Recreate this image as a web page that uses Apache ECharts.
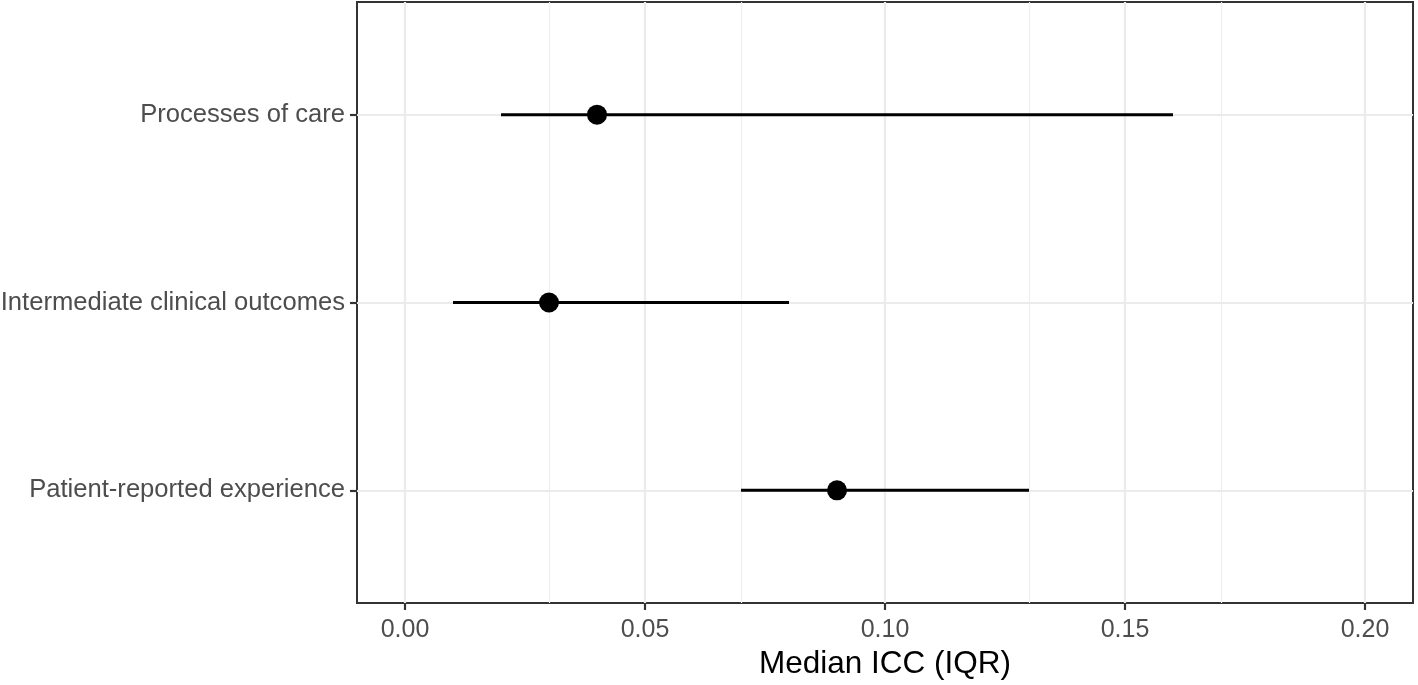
<!DOCTYPE html>
<html>
<head>
<meta charset="utf-8">
<script src="https://cdn.jsdelivr.net/npm/echarts@6/dist/echarts.min.js"></script>
<style>
html, body { margin: 0; padding: 0; background: #fff; }
#chart { width: 1418px; height: 685px; }
</style>
</head>
<body>
<div id="chart"></div>
<script>
// data
const categories = ['Processes of care', 'Intermediate clinical outcomes', 'Patient-reported experience']
const medians = [0.04, 0.03, 0.09]
const lows = [0.02, 0.01, 0.07]
const highs = [0.16, 0.08, 0.13]

const xTicks = [0, 0.05, 0.1, 0.15, 0.2]
const xMinor = [0.025, 0.075, 0.125, 0.175]
const xLimits = [-0.01, 0.21]
const yPos = [1, 2, 3]

const FONT = 'Liberation Sans'

var chart = echarts.init(document.getElementById('chart'), null, { renderer: 'canvas' })

var gridLines = []
xTicks.forEach(v => {
  gridLines.push({ xAxis: v, lineStyle: { color: '#ebebeb', width: 2.2, type: 'solid' } })
})
xMinor.forEach(v => {
  gridLines.push({ xAxis: v, lineStyle: { color: '#efefef', width: 1.2, type: 'solid' } })
})
yPos.forEach(v => {
  gridLines.push({ yAxis: v, lineStyle: { color: '#ebebeb', width: 2.2, type: 'solid' } })
})

var option = {
  animation: false,
  backgroundColor: '#fff',
  grid: {
    left: 357,
    top: 2,
    width: 1056,
    height: 601,
    outerBoundsMode: 'none',
    containLabel: false,
    show: true,
    borderColor: '#333',
    borderWidth: 2,
    backgroundColor: '#fff'
  },
  xAxis: {
    type: 'value',
    min: xLimits[0],
    max: xLimits[1],
    name: 'Median ICC (IQR)',
    nameLocation: 'middle',
    nameGap: 45,
    nameTextStyle: { fontFamily: FONT, fontSize: 31.5, color: '#000' },
    axisLine: { show: true, onZero: false, lineStyle: { color: '#333', width: 2 } },
    splitLine: { show: false },
    axisTick: {
      show: true,
      customValues: xTicks,
      length: 7,
      lineStyle: { color: '#333', width: 2.2 }
    },
    axisLabel: {
      customValues: xTicks,
      margin: 15,
      fontFamily: FONT,
      fontSize: 25,
      color: '#4d4d4d',
      formatter: v => v.toFixed(2)
    }
  },
  yAxis: {
    type: 'value',
    min: 0.4,
    max: 3.6,
    inverse: true,
    axisLine: { show: true, onZero: false, lineStyle: { color: '#333', width: 2 } },
    splitLine: { show: false },
    axisTick: {
      show: true,
      customValues: yPos,
      length: 7,
      lineStyle: { color: '#333', width: 2.2 }
    },
    axisLabel: {
      customValues: yPos,
      margin: 12,
      fontFamily: FONT,
      fontSize: 25.6,
      color: '#4d4d4d',
      formatter: v => categories[Math.round(v) - 1]
    }
  },
  series: [
    {
      type: 'custom',
      z: 2,
      silent: true,
      data: categories.map((c, i) => [yPos[i], lows[i], highs[i]]),
      renderItem: function (params, api) {
        var y = api.value(0)
        var p1 = api.coord([api.value(1), y])
        var p2 = api.coord([api.value(2), y])
        return {
          type: 'line',
          shape: { x1: p1[0], y1: p1[1], x2: p2[0], y2: p2[1] },
          style: { stroke: '#000', lineWidth: 3 }
        }
      },
      markLine: {
        silent: true,
        symbol: ['none', 'none'],
        label: { show: false },
        z: 1,
        data: gridLines
      }
    },
    {
      type: 'scatter',
      z: 3,
      silent: true,
      symbol: 'circle',
      symbolSize: 20,
      itemStyle: { color: '#000', opacity: 1 },
      data: categories.map((c, i) => [medians[i], yPos[i]])
    }
  ]
}

chart.setOption(option)
</script>
</body>
</html>
